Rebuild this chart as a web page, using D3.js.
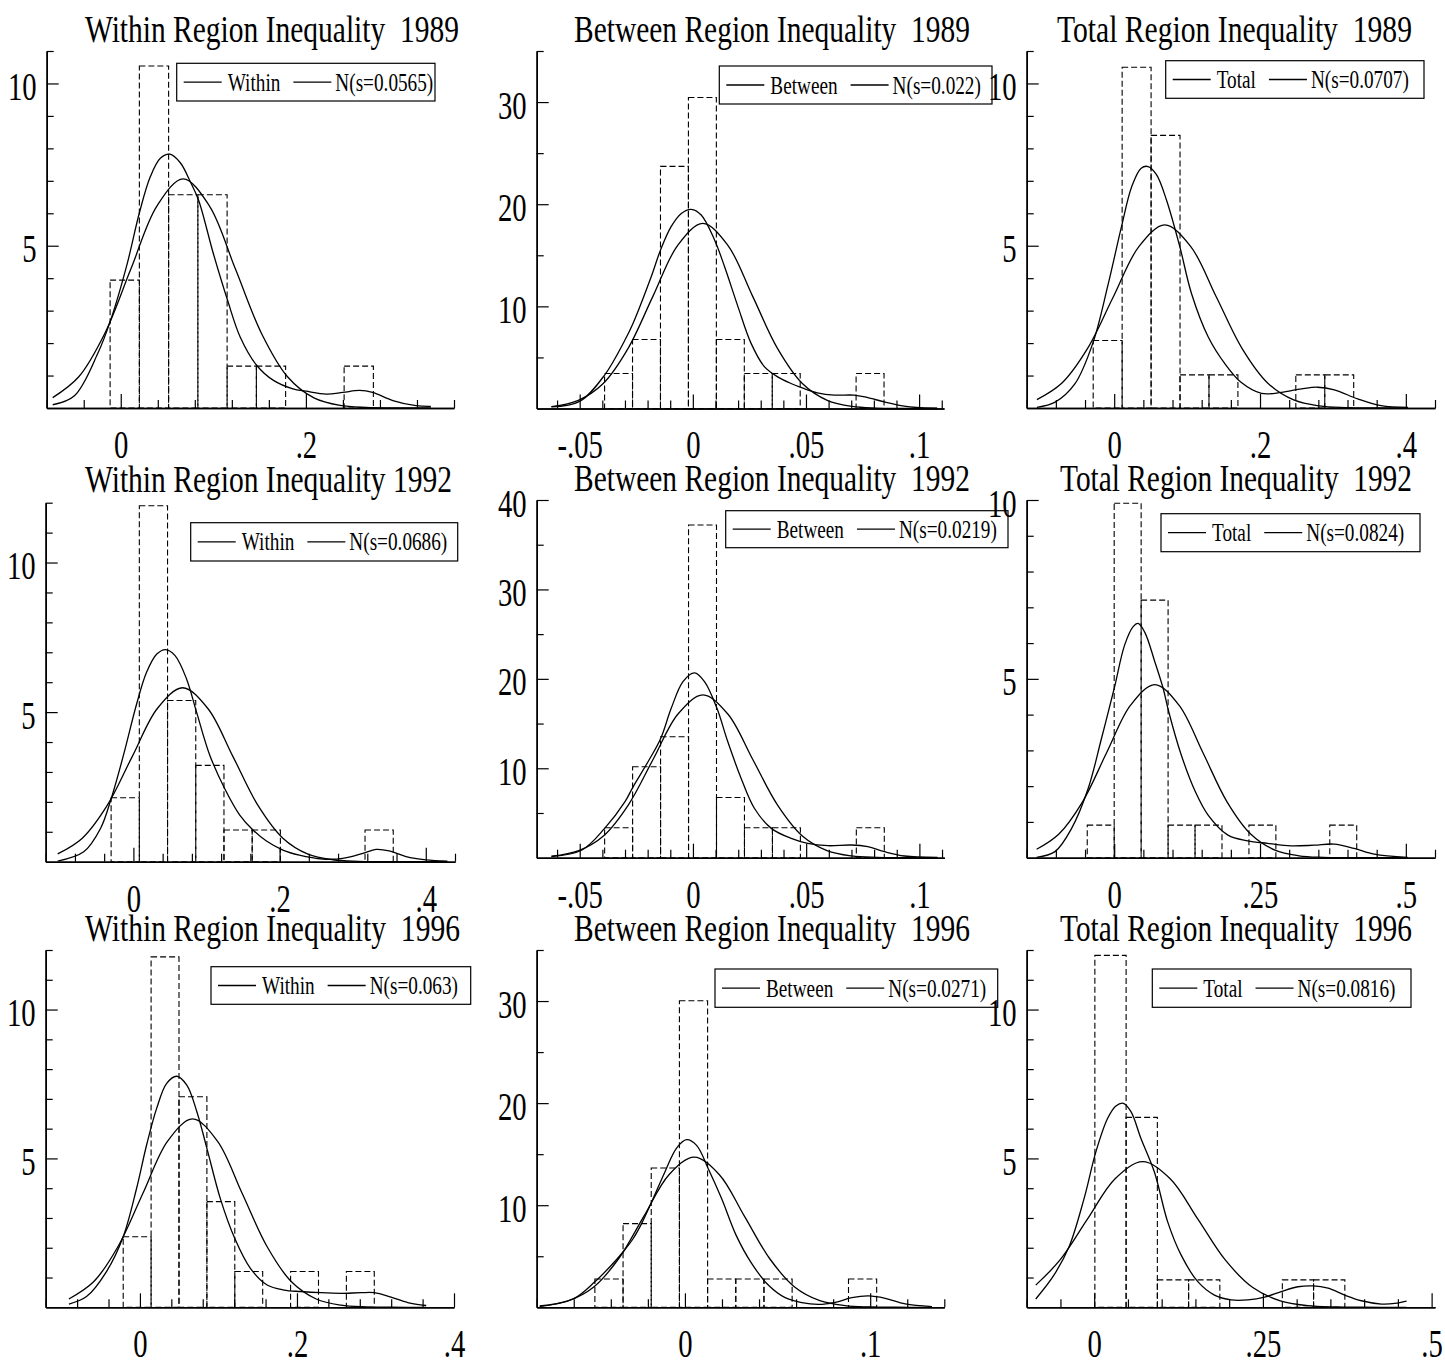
<!DOCTYPE html>
<html><head><meta charset="utf-8">
<script src="https://cdn.jsdelivr.net/npm/d3@7"></script>
<style>
body{margin:0;background:#fff}
svg{display:block}
text{font-family:"Liberation Serif","Times New Roman",serif;fill:#000}
</style>
</head><body><svg id="c" width="1445" height="1361"></svg>
<script>
// ---------------- DATA ----------------
const panelTitles = [
  "Within Region Inequality  1989", "Between Region Inequality  1989", "Total Region Inequality  1989",
  "Within Region Inequality 1992", "Between Region Inequality  1992", "Total Region Inequality  1992",
  "Within Region Inequality  1996", "Between Region Inequality  1996", "Total Region Inequality  1996"
];
const legendNames = ["Within","Between","Total","Within","Between","Total","Within","Between","Total"];
const normalLabels = ["N(s=0.0565)","N(s=0.022)","N(s=0.0707)","N(s=0.0686)","N(s=0.0219)","N(s=0.0824)","N(s=0.063)","N(s=0.0271)","N(s=0.0816)"];

const xDomains = [[-0.08,0.36],[-0.069,0.111],[-0.12,0.44],[-0.12,0.44],[-0.069,0.111],[-0.15,0.55],[-0.12,0.40],[-0.08,0.14],[-0.1,0.505]];
const yDomains = [[0,11],[0,35],[0,11],[0,12],[0,40],[0,10],[0,12],[0,35],[0,12]];
const xTickSteps = [0.04,0.01,0.04,0.04,0.01,0.05,0.04,0.02,0.05];
const yTickSteps = [1,5,1,1,5,1,1,5,1];
const xLabelValues = [[0,0.2],[-0.05,0,0.05,0.1],[0,0.2,0.4],[0,0.2,0.4],[-0.05,0,0.05,0.1],[0,0.25,0.5],[0,0.2,0.4],[0,0.1],[0,0.25,0.5]];
const yLabelValues = [[5,10],[10,20,30],[5,10],[5,10],[10,20,30,40],[5,10],[5,10],[10,20,30],[5,10]];

// histogram: first bin start, bin width, bin heights (density)
const histStarts = [-0.0115,-0.039,-0.0288,-0.0305,-0.039,-0.0462,-0.0213,-0.0486,0.001];
const histWidths = [0.0316,0.01235,0.0397,0.0386,0.01235,0.0462,0.03553,0.01521,0.0463];
const histHeights = [
  [3.94,10.54,6.57,6.57,1.29,1.29,0,0,1.29],
  [3.43,6.76,23.7,30.45,6.76,3.43,3.43,0,0,3.43],
  [2.08,10.5,8.4,1.02,1.02,0,0,1.02,1.02],
  [2.14,11.9,5.39,3.22,1.06,1.06,0,0,0,1.06],
  [3.35,10.17,13.52,37.2,6.74,3.35,3.35,0,0,3.35],
  [0.91,9.91,7.2,0.91,0.91,0,0.91,0,0,0.91],
  [2.37,11.77,7.07,3.55,1.2,0,1.2,0,1.2],
  [2.77,8.2,13.65,30.03,2.77,2.77,2.77,0,0,2.77],
  [11.82,6.38,0.92,0.92,0,0,0.92,0.92]
];

// kernel density curves [x, density]
const kdeWithin1989 = [[-0.0735,0.10],[-0.05,0.38],[-0.025,1.67],[-0.011,2.7],[0.007,4.45],[0.020,6.0],[0.032,7.13],[0.043,7.7],[0.053,7.82],[0.0645,7.55],[0.075,6.98],[0.084,6.41],[0.10,4.76],[0.1154,3.32],[0.129,2.19],[0.147,1.31],[0.165,0.85],[0.186,0.59],[0.2,0.52],[0.222,0.43],[0.24,0.48],[0.258,0.54],[0.272,0.48],[0.294,0.23],[0.319,0.07],[0.335,0.05]];
const kdeBetween1989 = [[-0.0625,0.16],[-0.05,0.7],[-0.039,3.27],[-0.030,6.7],[-0.0265,8.3],[-0.0184,12.9],[-0.0143,15.5],[-0.0096,17.8],[-0.0051,19.1],[-0.0007,19.5],[0.0037,18.95],[0.0096,16.5],[0.014,13.9],[0.0199,10.0],[0.0257,6.4],[0.0316,4.1],[0.0375,3.1],[0.0434,2.45],[0.049,1.96],[0.055,1.54],[0.0625,1.31],[0.0713,1.31],[0.077,1.08],[0.0846,0.65],[0.0934,0.23],[0.099,0.1],[0.108,0.03]];
const kdeTotal1989 = [[-0.106,0.02],[-0.081,0.18],[-0.054,0.74],[-0.0288,2.03],[-0.008,3.84],[0.010,5.59],[0.024,6.82],[0.037,7.39],[0.0466,7.44],[0.058,7.19],[0.0717,6.41],[0.090,4.97],[0.106,3.53],[0.129,2.19],[0.152,1.36],[0.174,0.79],[0.202,0.45],[0.229,0.48],[0.257,0.59],[0.279,0.64],[0.302,0.56],[0.334,0.28],[0.366,0.07],[0.403,0.02]];
const kdeWithin1992 = [[-0.1036,0.02],[-0.068,0.33],[-0.045,1.11],[-0.0305,2.1],[-0.0136,3.56],[0.0045,5.28],[0.018,6.33],[0.032,6.94],[0.044,7.09],[0.057,6.89],[0.0727,6.11],[0.0864,5.0],[0.1045,3.56],[0.125,2.44],[0.1455,1.56],[0.1636,1.06],[0.182,0.69],[0.2045,0.39],[0.227,0.22],[0.259,0.09],[0.286,0.11],[0.314,0.28],[0.332,0.41],[0.35,0.36],[0.373,0.17],[0.4,0.06],[0.4295,0.02]];
const kdeBetween1992 = [[-0.0625,0.11],[-0.049,0.86],[-0.039,3.28],[-0.030,6.26],[-0.0265,7.9],[-0.0199,10.7],[-0.0143,13.3],[-0.0096,16.7],[-0.0044,19.7],[0.0007,20.67],[0.0051,19.7],[0.0106,16.7],[0.0154,12.96],[0.0213,8.86],[0.0272,5.5],[0.0346,3.28],[0.0434,2.16],[0.0507,1.6],[0.0596,1.34],[0.0699,1.42],[0.0772,1.23],[0.0846,0.67],[0.0934,0.19],[0.108,0.04]];
const kdeTotal1992 = [[-0.133,0.01],[-0.1015,0.17],[-0.073,0.82],[-0.0445,1.94],[-0.0217,3.34],[0,4.73],[0.018,5.95],[0.0325,6.46],[0.041,6.55],[0.0525,6.3],[0.0696,5.48],[0.084,4.73],[0.0935,4.08],[0.115,2.87],[0.139,1.85],[0.161,1.19],[0.195,0.63],[0.229,0.47],[0.263,0.4],[0.303,0.33],[0.343,0.35],[0.377,0.38],[0.4115,0.26],[0.446,0.10],[0.503,0.01]];
const kdeWithin1996 = [[-0.0904,0.11],[-0.068,0.36],[-0.0426,1.2],[-0.0213,2.37],[-0.0043,3.99],[0.0085,5.45],[0.0213,6.68],[0.0341,7.52],[0.0469,7.76],[0.0597,7.46],[0.0725,6.57],[0.0853,5.34],[0.1023,3.66],[0.1207,2.32],[0.1407,1.31],[0.162,0.75],[0.1834,0.58],[0.2047,0.53],[0.2303,0.49],[0.2559,0.47],[0.2814,0.49],[0.2985,0.49],[0.3198,0.34],[0.3411,0.16],[0.3646,0.06]];
const kdeBetween1996 = [[-0.0784,0.07],[-0.0604,0.81],[-0.0486,2.5],[-0.0396,4.14],[-0.0333,5.44],[-0.0279,6.74],[-0.0234,8.2],[-0.018,10.3],[-0.0108,13.26],[-0.0045,15.6],[0.0009,16.42],[0.0063,15.86],[0.0126,13.58],[0.0198,10.65],[0.0276,7.07],[0.036,4.3],[0.045,2.18],[0.0541,0.94],[0.0631,0.46],[0.0721,0.29],[0.0811,0.49],[0.0901,0.94],[0.0991,1.11],[0.1081,0.88],[0.1189,0.33],[0.1333,0.07]];
const kdeTotal1996 = [[-0.0866,0.28],[-0.0594,1.09],[-0.0371,2.04],[-0.0149,3.66],[0.0025,5.22],[0.0198,6.34],[0.0322,6.76],[0.0431,6.85],[0.0545,6.57],[0.0693,5.67],[0.0891,4.55],[0.1089,2.87],[0.1287,1.76],[0.1535,0.86],[0.1782,0.41],[0.203,0.25],[0.2277,0.25],[0.2525,0.34],[0.2772,0.53],[0.302,0.69],[0.3243,0.72],[0.3465,0.64],[0.3713,0.41],[0.396,0.22],[0.4257,0.11],[0.4455,0.13],[0.4629,0.21]];

// normal density curves [x, density]
const normalWithin1989 = [[-0.0735,0.32],[-0.0456,0.955],[-0.0174,2.29],[0.0109,4.28],[0.0392,6.23],[0.0674,7.06],[0.0957,6.23],[0.1239,4.28],[0.1522,2.29],[0.1804,0.955],[0.2087,0.31],[0.2369,0.078],[0.2652,0.016],[0.2934,0.0024],[0.335,0]];
const normalBetween1989 = [[-0.0625,0.18],[-0.0506,0.80],[-0.0396,2.45],[-0.0286,5.89],[-0.0176,11.0],[-0.0066,16.0],[0.0044,18.13],[0.0154,16.0],[0.0264,11.0],[0.0374,5.89],[0.0484,2.45],[0.0594,0.80],[0.0704,0.20],[0.0814,0.04],[0.0924,0.006],[0.108,0]];
const normalTotal1989 = [[-0.106,0.26],[-0.072,0.763],[-0.0367,1.83],[-0.0013,3.42],[0.0341,4.98],[0.0694,5.64],[0.1048,4.98],[0.1401,3.42],[0.1755,1.83],[0.2108,0.763],[0.2462,0.248],[0.2815,0.063],[0.3169,0.012],[0.3522,0.002],[0.403,0]];
const normalWithin1992 = [[-0.1036,0.26],[-0.0699,0.787],[-0.0356,1.89],[-0.0013,3.53],[0.033,5.13],[0.0673,5.815],[0.1016,5.13],[0.1359,3.53],[0.1702,1.89],[0.2045,0.787],[0.2388,0.255],[0.2731,0.065],[0.3074,0.013],[0.3417,0.002],[0.4295,0]];
const normalBetween1992 = [[-0.0625,0.17],[-0.0504,0.80],[-0.0394,2.46],[-0.0285,5.91],[-0.0175,11.04],[-0.0066,16.07],[0.0044,18.21],[0.0154,16.07],[0.0263,11.04],[0.0373,5.91],[0.0482,2.46],[0.0592,0.80],[0.0701,0.20],[0.0811,0.04],[0.092,0.006],[0.108,0]];
const normalTotal1992 = [[-0.133,0.235],[-0.0952,0.655],[-0.054,1.57],[-0.0128,2.94],[0.0284,4.27],[0.0696,4.84],[0.1108,4.27],[0.152,2.94],[0.1932,1.57],[0.2344,0.655],[0.2756,0.212],[0.3168,0.054],[0.358,0.011],[0.3992,0.002],[0.503,0]];
const normalWithin1996 = [[-0.0905,0.278],[-0.059,0.856],[-0.0275,2.06],[0.004,3.84],[0.0355,5.59],[0.067,6.33],[0.0985,5.59],[0.13,3.84],[0.1615,2.06],[0.193,0.856],[0.2245,0.278],[0.256,0.070],[0.2875,0.014],[0.319,0.002],[0.3646,0]];
const normalBetween1996 = [[-0.0784,0.13],[-0.0628,0.646],[-0.0492,1.99],[-0.0357,4.78],[-0.0221,8.93],[-0.0086,12.99],[0.005,14.72],[0.0186,12.99],[0.0321,8.93],[0.0457,4.78],[0.0592,1.99],[0.0728,0.646],[0.0863,0.163],[0.0999,0.032],[0.1134,0.005],[0.1333,0]];
const normalTotal1996 = [[-0.0866,0.745],[-0.0506,1.59],[-0.0098,2.97],[0.031,4.32],[0.0718,4.89],[0.1126,4.32],[0.1534,2.97],[0.1942,1.59],[0.235,0.662],[0.2758,0.215],[0.3166,0.054],[0.3574,0.011],[0.3982,0.002],[0.4629,0]];

const kdeCurves = [kdeWithin1989,kdeBetween1989,kdeTotal1989,kdeWithin1992,kdeBetween1992,kdeTotal1992,kdeWithin1996,kdeBetween1996,kdeTotal1996];
const normalCurves = [normalWithin1989,normalBetween1989,normalTotal1989,normalWithin1992,normalBetween1992,normalTotal1992,normalWithin1996,normalBetween1996,normalTotal1996];

// ---------------- LAYOUT (positions / sizes) ----------------
const plotRects = [
  {l:46.7,r:454,t:51,b:408},{l:536.7,r:944,t:51,b:408.5},{l:1026.7,r:1435,t:51,b:408},
  {l:45.7,r:455,t:502.7,b:861.7},{l:536.7,r:944.3,t:500,b:857.7},{l:1026.7,r:1435,t:500,b:857.7},
  {l:45.7,r:454,t:950,b:1307.3},{l:536.7,r:944.3,t:950,b:1307.3},{l:1026.7,r:1435,t:950,b:1307.3}
];
const titleBoxes = [
  {x0:85,x1:459,y:42},{x0:574,x1:970,y:42},{x0:1057,x1:1412,y:42},
  {x0:85,x1:452,y:492},{x0:574,x1:970,y:491},{x0:1060,x1:1412,y:491},
  {x0:85,x1:460,y:941},{x0:574,x1:970,y:941},{x0:1060,x1:1412,y:941}
];
const legendBoxes = [
  {x:176.7,y:63.3,w:258.3,h:37.7},{x:719.3,y:66,w:272.7,h:38},{x:1165.7,y:60.7,w:258.3,h:37.6},
  {x:190.7,y:522.7,w:267,h:38.3},{x:725.7,y:510.7,w:282.3,h:37},{x:1161,y:513.7,w:259,h:38},
  {x:211,y:966.7,w:259.7,h:37.6},{x:715,y:969,w:282.7,h:38.3},{x:1152.3,y:969,w:258.7,h:38.3}
];
const TICK_SX = 0.7;   // horizontal condensation of tick labels
const LEG_SX = 0.74;   // horizontal condensation of legend labels

// ---------------- DRAW ----------------
const svg = d3.select("#c");
svg.append("rect").attr("width",1445).attr("height",1361).attr("fill","#fff");

function tickRange(dom, step){
  const k0 = Math.ceil(dom[0]/step - 1e-6), k1 = Math.floor(dom[1]/step + 1e-6);
  return d3.range(k0, k1+1).map(k => +(k*step).toFixed(6));
}
function fmt(v){ return String(v).replace(/^(-?)0\./, "$1."); }

panelTitles.forEach((title, i) => {
  const R = plotRects[i];
  const x = d3.scaleLinear().domain(xDomains[i]).range([R.l, R.r]);
  const y = d3.scaleLinear().domain(yDomains[i]).range([R.b, R.t]);
  const g = svg.append("g");

  // histogram (dashed outlines)
  const bars = histHeights[i].map((h,k) => ({x0: histStarts[i] + k*histWidths[i], x1: histStarts[i] + (k+1)*histWidths[i], h}))
    .filter(d => d.h > 0);
  g.selectAll("rect.bar").data(bars).join("rect").attr("class","bar")
    .attr("x", d => x(d.x0)).attr("y", d => y(d.h))
    .attr("width", d => x(d.x1) - x(d.x0)).attr("height", d => y(0) - y(d.h))
    .attr("fill","none").attr("stroke","#000").attr("stroke-width",1.1).attr("stroke-dasharray","6,3");

  // curves
  const line = d3.line().x(d => x(d[0])).y(d => y(Math.max(0,d[1]))).curve(d3.curveCatmullRom.alpha(0.5));
  g.append("path").attr("d", line(normalCurves[i])).attr("fill","none").attr("stroke","#000").attr("stroke-width",1.3);
  g.append("path").attr("d", line(kdeCurves[i])).attr("fill","none").attr("stroke","#000").attr("stroke-width",1.3);

  // x axis
  const xLab = xLabelValues[i];
  const xMinor = tickRange(xDomains[i], xTickSteps[i]).filter(v => !xLab.some(l => Math.abs(l-v) < 1e-9));
  const gx = g.append("g").attr("transform", `translate(0,${R.b})`);
  gx.call(d3.axisBottom(x).tickValues(xMinor).tickSize(-8).tickSizeOuter(0).tickFormat(""));
  const gx2 = g.append("g").attr("transform", `translate(0,${R.b})`);
  gx2.call(d3.axisBottom(x).tickValues(xLab).tickSize(-14).tickSizeOuter(0).tickFormat(fmt));
  gx2.selectAll("text").attr("y", 50).attr("dy", null)
    .attr("transform", `scale(${TICK_SX},1)`).style("font-size","41px").attr("text-anchor","middle");

  // y axis
  const yLab = yLabelValues[i];
  const yMinor = tickRange(yDomains[i], yTickSteps[i]).filter(v => v > 0 && !yLab.some(l => Math.abs(l-v) < 1e-9));
  const gy = g.append("g").attr("transform", `translate(${R.l},0)`);
  gy.call(d3.axisLeft(y).tickValues(yMinor).tickSize(-7).tickSizeOuter(0).tickFormat(""));
  const gy2 = g.append("g").attr("transform", `translate(${R.l},0)`);
  gy2.call(d3.axisLeft(y).tickValues(yLab).tickSize(-12).tickSizeOuter(0).tickFormat(d3.format("d")));
  gy2.selectAll("text").attr("x", -10/TICK_SX).attr("y", 16).attr("dy", null)
    .attr("transform", `scale(${TICK_SX},1)`).style("font-size","41px").attr("text-anchor","end");

  [gx,gx2,gy,gy2].forEach(a => {
    a.attr("font-family", null).attr("font-size", null);
    a.select(".domain").attr("stroke","#000").attr("stroke-width",1.5);
    a.selectAll(".tick line").attr("stroke","#000").attr("stroke-width",1.2);
  });

  // legend
  const lb = legendBoxes[i];
  const lg = g.append("g");
  lg.append("rect").attr("x", lb.x).attr("y", lb.y).attr("width", lb.w).attr("height", lb.h)
    .attr("fill","#fff").attr("stroke","#000").attr("stroke-width",1.2);
  const cy = lb.y + lb.h/2;
  lg.append("line").attr("x1", lb.x+7).attr("x2", lb.x+45).attr("y1", cy).attr("y2", cy).attr("stroke","#000").attr("stroke-width",1.3);
  const t1 = lg.append("text").attr("transform", `translate(${lb.x+51},${cy+8.5}) scale(${LEG_SX},1)`)
    .style("font-size","26px").text(legendNames[i]);
  const w1 = t1.node().getComputedTextLength()*LEG_SX;
  const l2 = lb.x + 51 + w1 + 13;
  lg.append("line").attr("x1", l2).attr("x2", l2+38).attr("y1", cy).attr("y2", cy).attr("stroke","#000").attr("stroke-width",1.3);
  lg.append("text").attr("transform", `translate(${l2+42},${cy+8.5}) scale(${LEG_SX},1)`)
    .style("font-size","26px").text(normalLabels[i]);

  // title
  const tb = titleBoxes[i];
  g.append("text").attr("x", tb.x0).attr("y", tb.y)
    .attr("textLength", tb.x1 - tb.x0).attr("lengthAdjust","spacingAndGlyphs")
    .style("font-size","37px").style("white-space","pre").text(title);
});
</script>
</body></html>
